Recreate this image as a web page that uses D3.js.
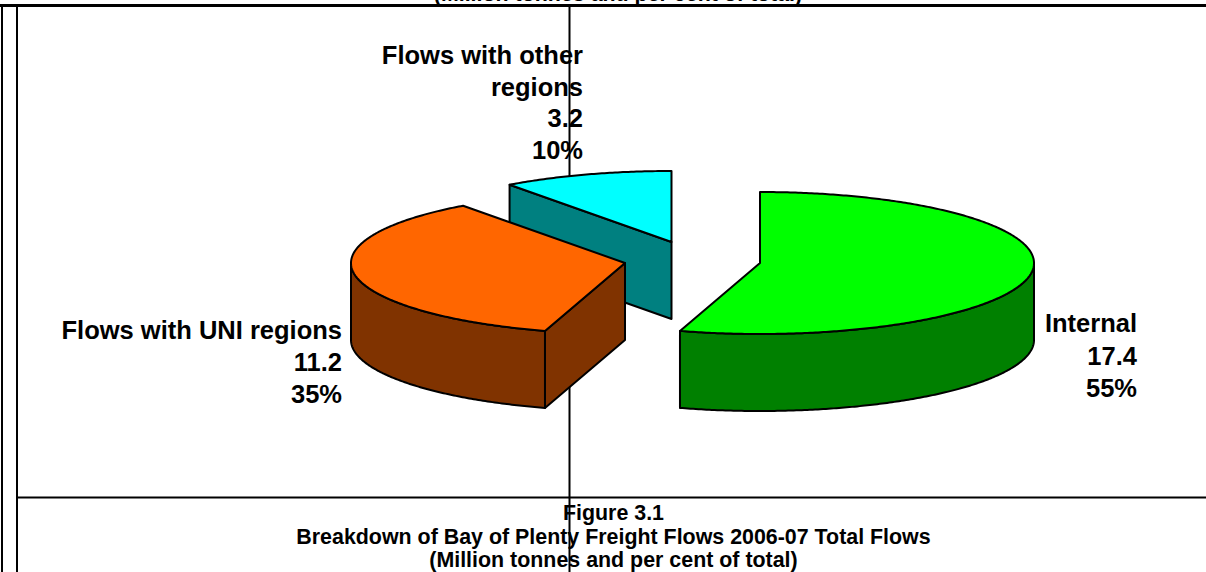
<!DOCTYPE html>
<html><head><meta charset="utf-8">
<script src="https://cdn.jsdelivr.net/npm/d3@7"></script>
<style>html,body{margin:0;padding:0;background:#fff;overflow:hidden}svg{display:block}text{font-family:"Liberation Sans",Arial,sans-serif;font-weight:bold;fill:#000}</style>
</head><body><script>
const categories = ["Internal", "Flows with UNI regions", "Flows with other regions"];
const flows = [17.4, 11.2, 3.2];
const shares = ["55%", "35%", "10%"];
const captionLines = ["Figure 3.1", "Breakdown of Bay of Plenty Freight Flows 2006-07 Total Flows", "(Million tonnes and per cent of total)"];
const topCaption = "(Million tonnes and per cent of total)";
const topColors = ["#00ff00", "#ff6600", "#00ffff"];
const sideColors = ["#008000", "#803300", "#008080"];

const W = 1206, H = 572, rx = 274, ry = 71, depth = 77;
const apex = [[760, 263], [625, 263], [671.5, 242]];
const svg = d3.select("body").append("svg").attr("width", W).attr("height", H);
const arcs = d3.pie().sort(null).value(d => d)(flows);

function pt(i, a, dy = 0) {
  return [apex[i][0] + rx * Math.sin(a), apex[i][1] - ry * Math.cos(a) + dy];
}
function rim(i, a0, a1, dy = 0) {
  const n = Math.max(2, Math.ceil(Math.abs(a1 - a0) / 0.01));
  return d3.range(n + 1).map(k => pt(i, a0 + (a1 - a0) * k / n, dy));
}
const line = d3.line();
function closed(points) { return line(points) + "Z"; }

// labels and captions sit under the frame lines
const labelSpec = [
  {x: 1137, y: 332, step: 32.5, lines: [categories[0], flows[0].toFixed(1), shares[0]]},
  {x: 342, y: 339, step: 32, lines: [categories[1], flows[1].toFixed(1), shares[1]]},
  {x: 583, y: 64, step: 31.7, lines: ["Flows with other", "regions", flows[2].toFixed(1), shares[2]]}
];
labelSpec.forEach(s => {
  s.lines.forEach((t, k) => {
    svg.append("text").attr("x", s.x).attr("y", s.y + k * s.step).attr("text-anchor", "end")
      .attr("font-size", 25.5).text(t);
  });
});
captionLines.forEach((t, k) => {
  svg.append("text").attr("x", 613.5).attr("y", 520 + k * 23.5).attr("text-anchor", "middle")
    .attr("font-size", 21.4).text(t);
});
svg.append("text").attr("x", 618).attr("y", 0.5).attr("text-anchor", "middle").attr("font-size", 21.4).text(topCaption);

// frame
const frame = svg.append("g").attr("stroke", "#000").attr("fill", "none");
frame.append("line").attr("x1", 0).attr("x2", W).attr("y1", 5.5).attr("y2", 5.5).attr("stroke-width", 3);
frame.append("line").attr("x1", 17).attr("x2", W).attr("y1", 497.5).attr("y2", 497.5).attr("stroke-width", 2);
frame.append("line").attr("x1", 2).attr("x2", 2).attr("y1", 5).attr("y2", H).attr("stroke-width", 2);
frame.append("line").attr("x1", 17).attr("x2", 17).attr("y1", 5).attr("y2", H).attr("stroke-width", 2);
frame.append("line").attr("x1", 569.5).attr("x2", 569.5).attr("y1", 7).attr("y2", H).attr("stroke-width", 2);

// slices, back to front
const g = svg.append("g").attr("stroke", "#000").attr("stroke-width", 2).attr("stroke-linejoin", "round");
function topFace(i) {
  const a = arcs[i];
  return closed([apex[i], ...rim(i, a.startAngle, a.endAngle)]);
}
function cutFace(i, a) {
  const p = pt(i, a);
  return closed([apex[i], p, [p[0], p[1] + depth], [apex[i][0], apex[i][1] + depth]]);
}
// other regions (cyan)
g.append("path").attr("d", cutFace(2, arcs[2].startAngle)).attr("fill", sideColors[2]);
g.append("path").attr("d", topFace(2)).attr("fill", topColors[2]);
// UNI regions (orange)
const aS = arcs[1].startAngle, aL = 1.5 * Math.PI;
g.append("path").attr("d", cutFace(1, aS)).attr("fill", sideColors[1]);
g.append("path").attr("d", closed([...rim(1, aS, aL), ...rim(1, aL, aS, depth)])).attr("fill", sideColors[1]);
g.append("path").attr("d", topFace(1)).attr("fill", topColors[1]);
// internal (green)
const gE = arcs[0].endAngle, gR = 0.5 * Math.PI;
g.append("path").attr("d", closed([...rim(0, gR, gE), ...rim(0, gE, gR, depth)])).attr("fill", sideColors[0]);
g.append("path").attr("d", topFace(0)).attr("fill", topColors[0]);
</script></body></html>
